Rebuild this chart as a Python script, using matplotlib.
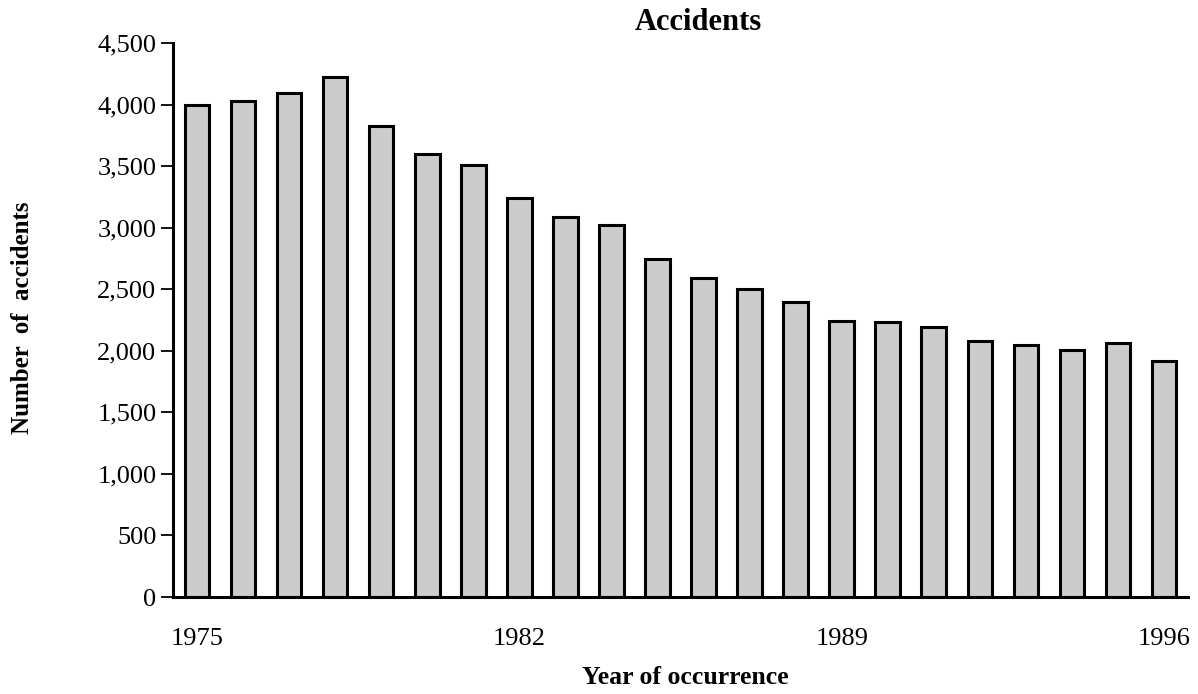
import matplotlib
matplotlib.use("Agg")
import matplotlib.pyplot as plt
from matplotlib.ticker import FuncFormatter

years = list(range(1975, 1997))
accidents = [4000, 4025, 4090, 4225, 3825, 3600, 3505, 3240,
             3085, 3025, 2745, 2590, 2505, 2395, 2245, 2230,
             2190, 2080, 2050, 2005, 2060, 1915]
tick_years = [1975, 1982, 1989, 1996]

plt.rcParams["font.family"] = ["Liberation Serif", "DejaVu Serif"]

fig = plt.figure(figsize=(11.98, 6.94), dpi=100)
ax = fig.add_axes([173 / 1198, 1 - 597 / 694, (1188 - 173) / 1198, (597 - 43) / 694])

pos = list(range(len(years)))
ax.bar(pos, accidents, width=0.535, color="#cccccc", edgecolor="black",
       linewidth=2.2, zorder=2)

ax.set_xlim(-0.52, len(years) - 0.48)
ax.set_ylim(0, 4500)
ax.set_yticks(range(0, 4501, 500))
ax.yaxis.set_major_formatter(FuncFormatter(lambda v, p: f"{int(v):,}"))
ax.set_xticks([years.index(y) for y in tick_years])
ax.set_xticklabels([str(y) for y in tick_years])

for s in ["top", "right"]:
    ax.spines[s].set_visible(False)
ax.spines["left"].set_linewidth(2.2)
ax.spines["bottom"].set_linewidth(2.2)
ax.spines["bottom"].set_zorder(3)

ax.tick_params(axis="y", direction="out", length=9, width=1.3, labelsize=19, pad=3)
ax.tick_params(axis="x", length=0, labelsize=19, pad=22)

fig.text(698 / 1198, 1 - 22 / 694, "Accidents", ha="center", va="center",
         fontsize=22, fontweight="bold")
fig.text(685 / 1198, 1 - 677 / 694, "Year of occurrence", ha="center", va="center",
         fontsize=18.5, fontweight="bold")
fig.text(23 / 1198, 1 - 318 / 694, "Number  of  accidents", ha="center", va="center",
         rotation=90, fontsize=18, fontweight="bold")

fig.savefig("out.png", dpi=100)
